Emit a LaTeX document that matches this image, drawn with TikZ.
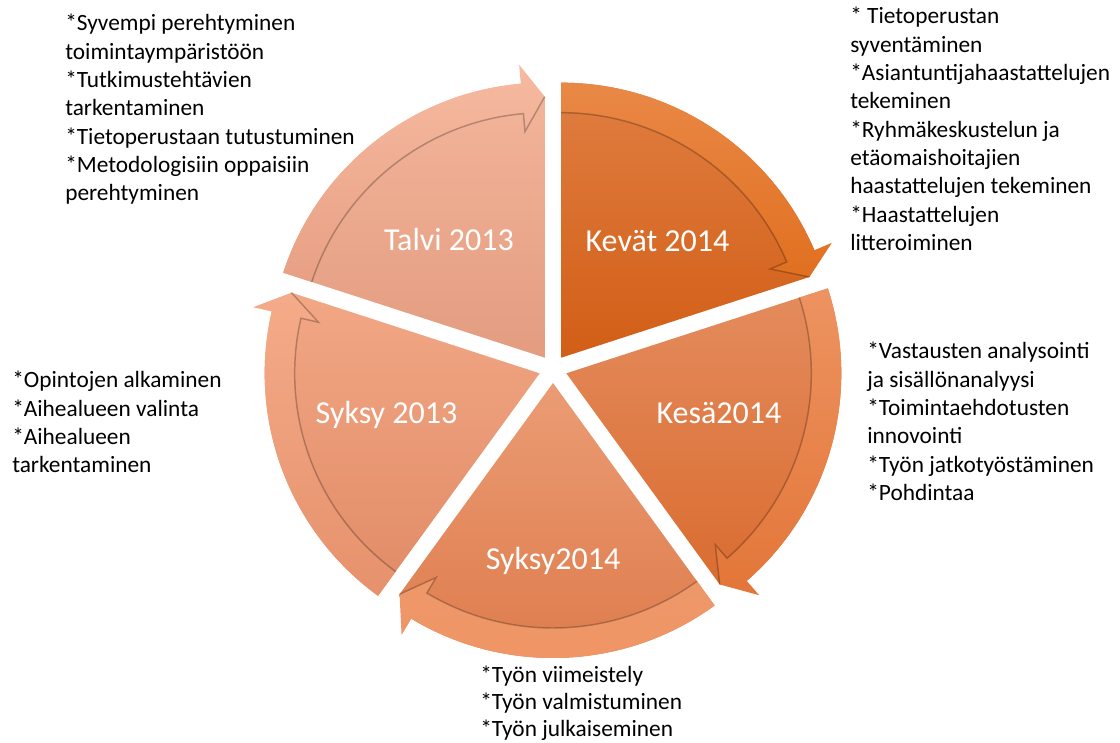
\documentclass[tikz,border=0pt]{standalone}
\usepackage{fontspec}
\setmainfont{Carlito}
\begin{document}
\begin{tikzpicture}[x=0.75pt,y=0.75pt,
    seglabel/.style={text=white,inner sep=0,anchor=base,font=\fontsize{24pt}{29pt}\selectfont},
    notetext/.style={align=left,inner sep=0,anchor=north west,font=\fontsize{17.5pt}{21.25pt}\selectfont},
    bandedge/.style={draw=black,draw opacity=0.25,line width=1.1}]
    \definecolor{cyc_talvi}{RGB}{243,181,155}
    \definecolor{cyc_talviB}{RGB}{227,156,128}
    \definecolor{cyc_kevat}{RGB}{224,126,66}
    \definecolor{cyc_kevatB}{RGB}{210,94,22}
    \definecolor{cyc_kesa}{RGB}{228,140,94}
    \definecolor{cyc_kesaB}{RGB}{218,108,48}
    \definecolor{cyc_syksyb}{RGB}{235,156,116}
    \definecolor{cyc_syksybB}{RGB}{221,122,74}
    \definecolor{cyc_syksya}{RGB}{242,167,133}
    \definecolor{cyc_syksyaB}{RGB}{225,139,102}
    \definecolor{arr_talvi}{RGB}{246,186,160}
    \definecolor{arr_talviB}{RGB}{232,160,132}
    \definecolor{arr_kevat}{RGB}{233,136,70}
    \definecolor{arr_kevatB}{RGB}{225,112,32}
    \definecolor{arr_kesa}{RGB}{237,147,97}
    \definecolor{arr_kesaB}{RGB}{227,118,56}
    \definecolor{arr_syksyb}{RGB}{238,152,106}
    \definecolor{arr_syksybB}{RGB}{240,148,100}
    \definecolor{arr_syksya}{RGB}{245,171,137}
    \definecolor{arr_syksyaB}{RGB}{230,145,108}
    \useasboundingbox (-553,-373) rectangle (567,369);
    % wedges, clipped at the arrow tip
    \path[shift={(126:14)},top color=cyc_talvi,bottom color=cyc_talviB] (0,0) -- (162:275) arc[start angle=162,end angle=95,radius=275] -- (90:261) -- cycle;
    \path[shift={(54:14)},top color=cyc_kevat,bottom color=cyc_kevatB] (0,0) -- (90:275) arc[start angle=90,end angle=23,radius=275] -- (18:261) -- cycle;
    \path[shift={(-18:14)},top color=cyc_kesa,bottom color=cyc_kesaB] (0,0) -- (18:275) arc[start angle=18,end angle=-49,radius=275] -- (-54:261) -- cycle;
    \path[shift={(-90:14)},top color=cyc_syksyb,bottom color=cyc_syksybB] (0,0) -- (-54:275) arc[start angle=-54,end angle=-121,radius=275] -- (-126:261) -- cycle;
    \path[shift={(198:14)},top color=cyc_syksya,bottom color=cyc_syksyaB] (0,0) -- (-126:275) arc[start angle=-126,end angle=-193,radius=275] -- (-198:261) -- cycle;
    % curved arrows on the rim
    \path[shift={(126:14)},top color=arr_talvi,bottom color=arr_talviB] (162:275) arc[start angle=162,end angle=95,radius=275] -- (95:294) -- (90:261) -- (95:227) -- (95:245) arc[start angle=95,end angle=162,radius=245] -- cycle;
    \path[shift={(54:14)},top color=arr_kevat,bottom color=arr_kevatB] (90:275) arc[start angle=90,end angle=23,radius=275] -- (23:294) -- (18:261) -- (23:227) -- (23:245) arc[start angle=23,end angle=90,radius=245] -- cycle;
    \path[shift={(-18:14)},top color=arr_kesa,bottom color=arr_kesaB] (18:275) arc[start angle=18,end angle=-49,radius=275] -- (-49:294) -- (-54:261) -- (-49:227) -- (-49:245) arc[start angle=-49,end angle=18,radius=245] -- cycle;
    \path[shift={(-90:14)},top color=arr_syksyb,bottom color=arr_syksybB] (-54:275) arc[start angle=-54,end angle=-121,radius=275] -- (-121:294) -- (-126:261) -- (-121:227) -- (-121:245) arc[start angle=-121,end angle=-54,radius=245] -- cycle;
    \path[shift={(198:14)},top color=arr_syksya,bottom color=arr_syksyaB] (-126:275) arc[start angle=-126,end angle=-193,radius=275] -- (-193:294) -- (-198:261) -- (-193:227) -- (-193:245) arc[start angle=-193,end angle=-126,radius=245] -- cycle;
    \draw[shift={(126:14)},bandedge] (90:261) -- (95:227) -- (95:245) arc[start angle=95,end angle=162,radius=245];
    \draw[shift={(54:14)},bandedge] (18:261) -- (23:227) -- (23:245) arc[start angle=23,end angle=90,radius=245];
    \draw[shift={(-18:14)},bandedge] (-54:261) -- (-49:227) -- (-49:245) arc[start angle=-49,end angle=18,radius=245];
    \draw[shift={(-90:14)},bandedge] (-126:261) -- (-121:227) -- (-121:245) arc[start angle=-121,end angle=-54,radius=245];
    \draw[shift={(198:14)},bandedge] (-198:261) -- (-193:227) -- (-193:245) arc[start angle=-193,end angle=-126,radius=245];
    \node[seglabel] (talvi) at (-104,118.5) {Talvi 2013};
    \node[seglabel] (kevat) at (104.5,117) {Kevät 2014};
    \node[seglabel] (kesa) at (166,-55) {Kesä2014};
    \node[seglabel] (syksy14) at (0,-200) {Syksy2014};
    \node[seglabel] (syksy13) at (-166.5,-55) {Syksy 2013};
    \node[notetext] (talvi_txt) at (-488,355) {*Syvempi perehtyminen\\toimintaympäristöön\\*Tutkimustehtävien\\tarkentaminen\\*Tietoperustaan tutustuminen\\*Metodologisiin oppaisiin\\perehtyminen};
    \node[notetext] (kevat_txt) at (297,362) {* Tietoperustan\\syventäminen\\*Asiantuntijahaastattelujen\\tekeminen\\*Ryhmäkeskustelun ja\\etäomaishoitajien\\haastattelujen tekeminen\\*Haastattelujen\\litteroiminen};
    \node[notetext] (kesa_txt) at (314,27) {*Vastausten analysointi\\ja sisällönanalyysi\\*Toimintaehdotusten\\innovointi\\*Työn jatkotyöstäminen\\*Pohdintaa};
    \node[notetext] (syksy13_txt) at (-541,-2) {*Opintojen alkaminen\\*Aihealueen valinta\\*Aihealueen\\tarkentaminen};
    \node[notetext,font=\fontsize{17.5pt}{20pt}\selectfont] (syksy14_txt) at (-73,-297) {*Työn viimeistely\\*Työn valmistuminen\\*Työn julkaiseminen};
\end{tikzpicture}
\end{document}
